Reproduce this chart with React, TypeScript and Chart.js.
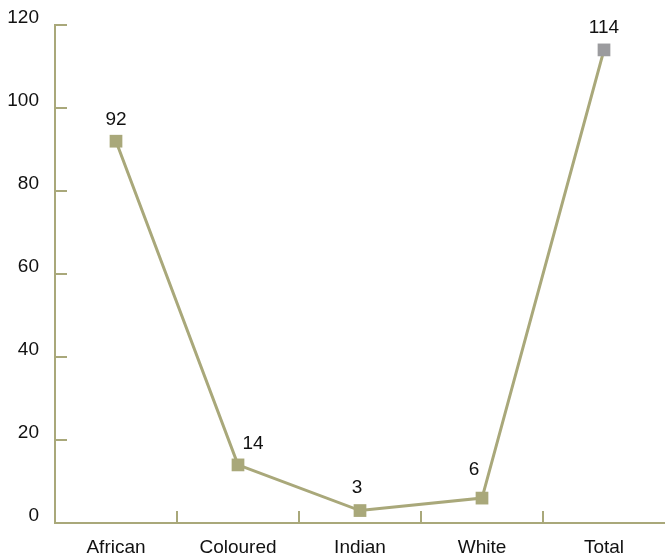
import React, { useEffect, useRef } from "react";
import { Chart, registerables } from "chart.js";

Chart.register(...registerables);

const categories = ["African", "Coloured", "Indian", "White", "Total"];
const values = [92, 14, 3, 6, 114];
const yMin = 0;
const yMax = 120;
const yStep = 20;

const OLIVE = "rgb(169,168,122)";
const GREY = "rgb(155,155,158)";
const pointColors = [OLIVE, OLIVE, OLIVE, OLIVE, GREY];
const labelDx = [0, 15, -3, -8, 0];
const labelDy = [-21, -21, -23, -28, -22];
const FONT_FAMILY = "'Liberation Sans', Arial, Helvetica, sans-serif";
const FONT_SIZE = 19;
const POINT_RADIUS = 9;

const decorPlugin = {
  id: "decor",
  afterDatasetsDraw(chart: any) {
    const { ctx, chartArea } = chart;
    const xs = chart.scales.x;
    const ys = chart.scales.y;
    ctx.save();
    ctx.strokeStyle = OLIVE;
    ctx.lineWidth = 2;
    ys.ticks.forEach((t: any) => {
      const y = Math.round(ys.getPixelForValue(t.value));
      ctx.beginPath();
      ctx.moveTo(chartArea.left, y);
      ctx.lineTo(chartArea.left + 12, y);
      ctx.stroke();
    });
    for (let i = 0; i < categories.length - 1; i++) {
      const x = Math.round((xs.getPixelForValue(i) + xs.getPixelForValue(i + 1)) / 2);
      ctx.beginPath();
      ctx.moveTo(x, chartArea.bottom);
      ctx.lineTo(x, chartArea.bottom - 12);
      ctx.stroke();
    }
    const meta = chart.getDatasetMeta(0);
    ctx.fillStyle = "#111";
    ctx.font = `${FONT_SIZE}px ${FONT_FAMILY}`;
    ctx.textAlign = "center";
    ctx.textBaseline = "middle";
    meta.data.forEach((pt: any, i: number) => {
      ctx.fillText(String(values[i]), pt.x + labelDx[i], pt.y + labelDy[i]);
    });
    ctx.restore();
  },
};

export default function App() {
  const ref = useRef<HTMLCanvasElement>(null);
  useEffect(() => {
    if (!ref.current) return;
    const chart = new Chart(ref.current, {
      type: "line",
      data: {
        labels: categories,
        datasets: [
          {
            data: values,
            borderColor: OLIVE,
            borderWidth: 3,
            pointStyle: "rect",
            pointRadius: POINT_RADIUS,
            pointHoverRadius: POINT_RADIUS,
            pointBackgroundColor: pointColors,
            pointBorderColor: pointColors,
            pointBorderWidth: 0,
            tension: 0,
            clip: false as any,
          },
        ],
      },
      options: {
        responsive: false,
        animation: false,
        layout: { padding: { top: 25, left: 0, right: 0, bottom: 0 } },
        plugins: {
          legend: { display: false },
          tooltip: { enabled: false },
        },
        scales: {
          x: {
            offset: true,
            grid: { display: false, offset: true },
            border: { display: true, color: OLIVE, width: 2 },
            ticks: {
              color: "#111",
              font: { family: FONT_FAMILY, size: FONT_SIZE },
              padding: 5,
              maxRotation: 0,
            },
            afterFit: (s: any) => {
              s.height = 33;
            },
          },
          y: {
            min: yMin,
            max: yMax,
            grid: { display: false },
            border: { display: true, color: OLIVE, width: 2 },
            ticks: {
              stepSize: yStep,
              color: "#111",
              font: { family: FONT_FAMILY, size: FONT_SIZE },
              padding: 8,
              labelOffset: -7,
            },
            afterFit: (s: any) => {
              s.width = 55;
            },
          },
        },
      },
      plugins: [decorPlugin],
    });
    return () => chart.destroy();
  }, []);
  return (
    <div style={{ position: "absolute", left: 0, top: 0, width: 665, height: 556, overflow: "hidden", background: "#fff" }}>
      <canvas ref={ref} width={665 + POINT_RADIUS} height={556} />
    </div>
  );
}
